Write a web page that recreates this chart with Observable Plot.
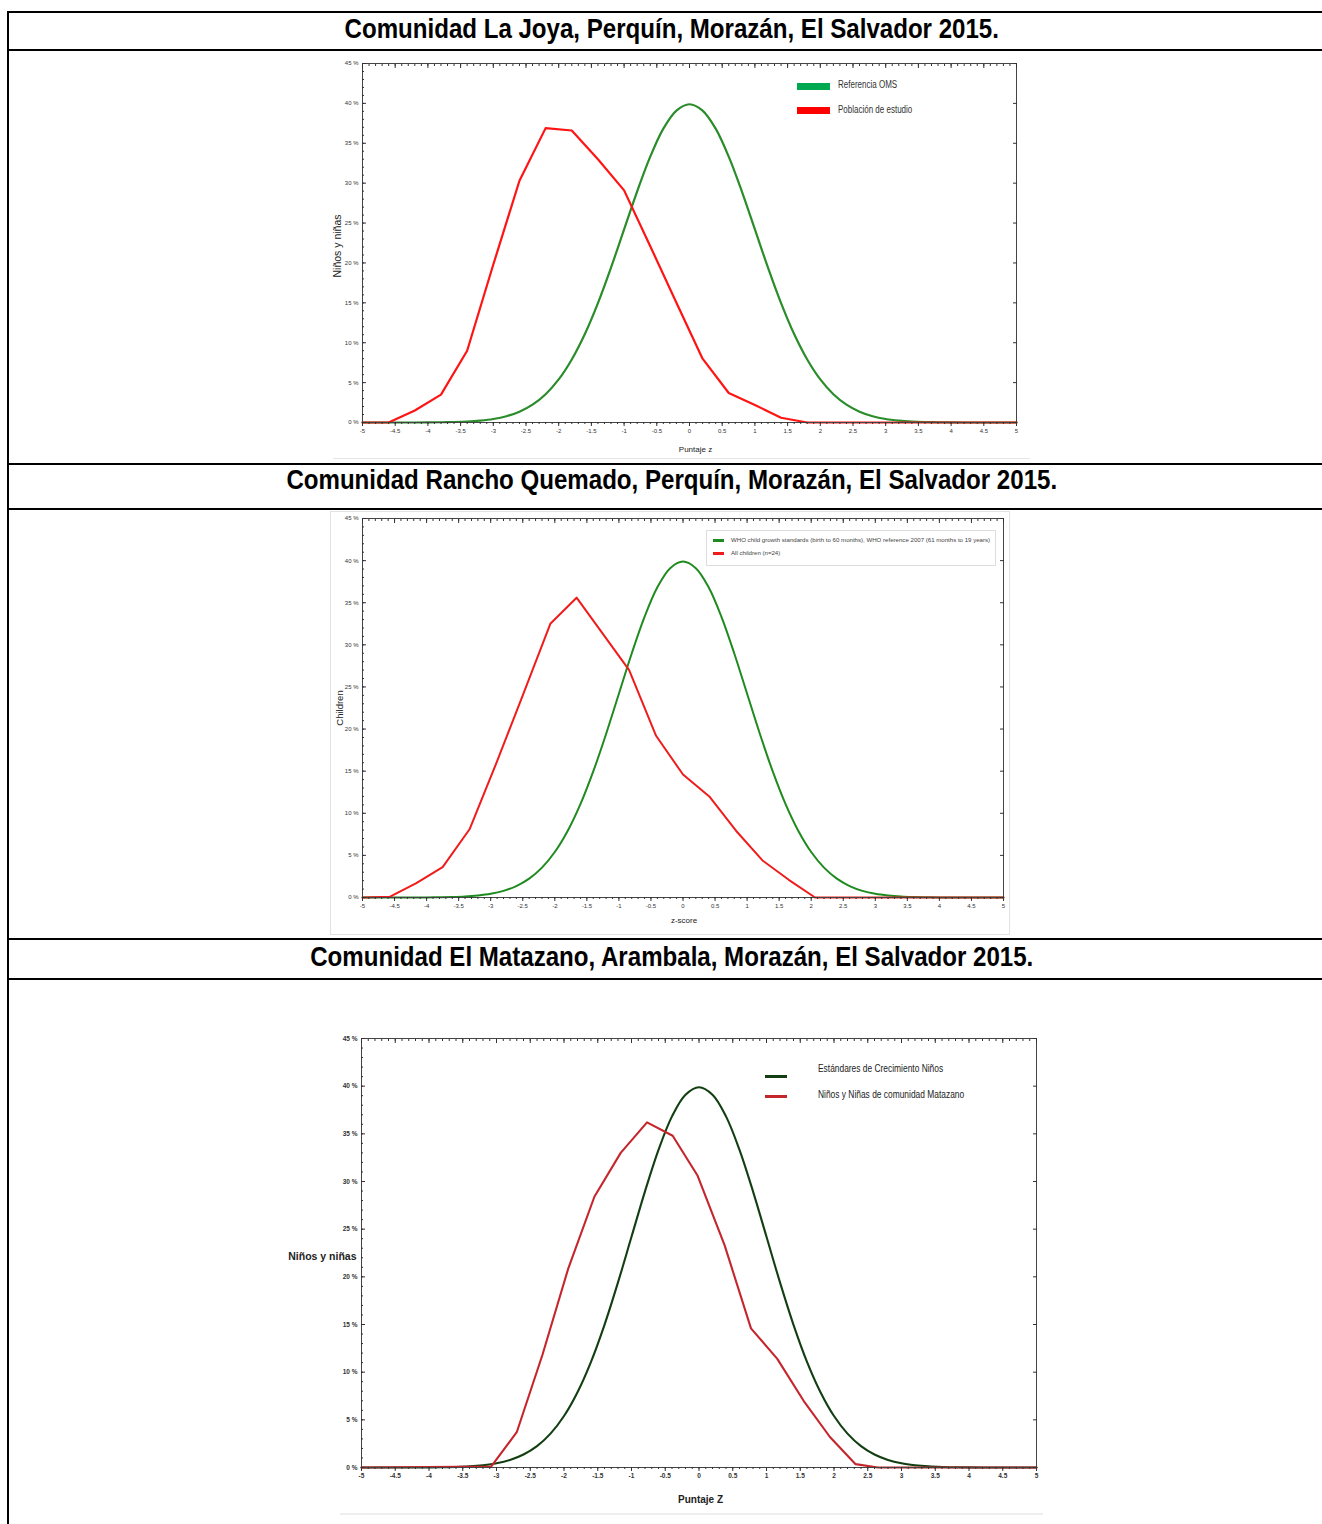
<!DOCTYPE html>
<html><head><meta charset="utf-8">
<script src="https://cdn.jsdelivr.net/npm/d3@7"></script>
<script src="https://cdn.jsdelivr.net/npm/@observablehq/plot@0.6"></script>
<style>
body{margin:0;background:#fff;}
#page{position:relative;width:1322px;height:1524px;overflow:hidden;background:#fff;font-family:"Liberation Sans",Arial,sans-serif;}
.hl{position:absolute;left:7px;width:1320px;height:2px;background:#000;}
.vl{position:absolute;left:7px;top:11px;width:2px;height:1520px;background:#000;}
.title{position:absolute;left:9px;width:1323px;text-align:center;font-family:"Liberation Sans",Arial,sans-serif;font-weight:bold;font-size:28px;line-height:28px;white-space:nowrap;color:#000;transform:scaleX(0.86);transform-origin:670.5px 50%;}
.chart{position:absolute;}
.lg{position:absolute;white-space:nowrap;line-height:1;transform-origin:0 50%;}
.sw{position:absolute;}
</style></head>
<body><div id="page"></div>
<script>
// ---------- data ----------
const titles = [
  "Comunidad La Joya, Perquín, Morazán, El Salvador 2015.",
  "Comunidad Rancho Quemado, Perquín, Morazán, El Salvador 2015.",
  "Comunidad El Matazano, Arambala, Morazán, El Salvador 2015."
];
const xTicks = [-5,-4.5,-4,-3.5,-3,-2.5,-2,-1.5,-1,-0.5,0,0.5,1,1.5,2,2.5,3,3.5,4,4.5,5];
const yTicks = [0,5,10,15,20,25,30,35,40,45];

// WHO reference curve (percent of children)
const whoZ = [-5,-4.8,-4.6,-4.4,-4.2,-4,-3.8,-3.6,-3.4,-3.2,-3,-2.8,-2.6,-2.4,-2.2,-2,-1.8,-1.6,-1.4,-1.2,-1,-0.8,-0.6,-0.4,-0.2,0,
  0.2,0.4,0.6,0.8,1,1.2,1.4,1.6,1.8,2,2.2,2.4,2.6,2.8,3,3.2,3.4,3.6,3.8,4,4.2,4.4,4.6,4.8,5];
const whoPct = [0,0,0,0,0,0.01,0.03,0.06,0.12,0.24,0.44,0.79,1.36,2.24,3.55,5.4,7.9,11.09,14.97,19.42,24.2,28.97,33.32,36.83,39.1,39.89,
  39.1,36.83,33.32,28.97,24.2,19.42,14.97,11.09,7.9,5.4,3.55,2.24,1.36,0.79,0.44,0.24,0.12,0.06,0.03,0.01,0,0,0,0,0];

// La Joya
const laJoyaZ   = [-5,-4.6,-4.2,-3.8,-3.4,-3.0,-2.6,-2.2,-1.8,-1.4,-1.0,-0.6,-0.2,0.2,0.6,1.0,1.4,1.8,5];
const laJoyaPct = [0,0,1.5,3.5,9.0,19.8,30.3,36.9,36.6,33.0,29.1,22.1,15.0,8.0,3.7,2.2,0.6,0,0];
// Rancho Quemado
const ranchoZ   = [-5,-4.57,-4.16,-3.75,-3.33,-2.92,-2.5,-2.07,-1.66,-1.25,-0.84,-0.42,0.0,0.41,0.83,1.24,1.65,2.06,5];
const ranchoPct = [0,0.1,1.7,3.6,8.1,15.8,24.0,32.5,35.6,31.3,27.0,19.2,14.6,12.0,7.9,4.4,2.1,0,0];
// El Matazano
const matazanoZ   = [-5,-3.08,-2.70,-2.32,-1.94,-1.55,-1.16,-0.77,-0.39,-0.02,0.38,0.77,1.16,1.55,1.94,2.32,2.65,5];
const matazanoPct = [0,0.1,3.7,11.8,20.8,28.4,33.0,36.2,34.8,30.6,23.3,14.6,11.4,7.0,3.2,0.35,0,0];

// ---------- layout ----------
const page = document.getElementById("page");
function el(cls, css, txt){
  const d = document.createElement("div");
  d.className = cls;
  Object.assign(d.style, css);
  if (txt != null) d.textContent = txt;
  page.appendChild(d);
  return d;
}
el("vl", {});
[11,49,463,508,938,978].forEach(t => el("hl", {top: t + "px"}));
el("title", {top: "15px"}, titles[0]);
el("title", {top: "466px"}, titles[1]);
el("title", {top: "943px"}, titles[2]);

// faint image borders
el("sw", {left:"333px", top:"458px", width:"697px", height:"1px", background:"#e6e6e6"});
el("sw", {left:"330px", top:"511px", width:"678px", height:"422px", border:"1px solid #e2e2e2"});
el("sw", {left:"340px", top:"1513px", width:"703px", height:"2px", background:"#eeeeee"});

function chart(o){
  const who = whoZ.map((z,i)=>({z, pct: whoPct[i]}));
  const red = o.redZ.map((z,i)=>({z, pct: o.redPct[i]}));
  const tf = d => String(d);
  const svg = Plot.plot({
    width: o.w, height: o.h,
    marginTop: o.mt, marginRight: o.mr, marginBottom: o.mb, marginLeft: o.ml,
    x: {domain: [-5, 5]},
    y: {domain: [0, 45]},
    style: {fontFamily: o.font, fontSize: o.tickFont + "px", background: "transparent", color: "#333", overflow: "visible"},
    marks: [
      Plot.line(who, {x: "z", y: "pct", stroke: o.green, strokeWidth: o.sw, curve: "catmull-rom"}),
      Plot.line(red, {x: "z", y: "pct", stroke: o.red, strokeWidth: o.sw}),
      Plot.frame({stroke: "#444", strokeWidth: 1}),
      Plot.axisX(xTicks, {anchor: "bottom", tickSize: 4, tickPadding: 2, tickFormat: tf, label: null, fontWeight: o.tickWeight}),
      Plot.axisX({anchor: "bottom", ticks: 100, tickSize: 2, fill: "none", label: null}),
      Plot.axisX(xTicks, {anchor: "top", tickSize: -4, fill: "none", label: null}),
      Plot.axisX({anchor: "top", ticks: 100, tickSize: -2, fill: "none", label: null}),
      Plot.axisY(yTicks, {anchor: "left", tickSize: 0, tickPadding: 4, tickFormat: d => d + " %", label: null, fontWeight: o.tickWeight}),
      Plot.axisY(yTicks, {anchor: "left", tickSize: -4, fill: "none", label: null}),
      Plot.axisY({anchor: "left", ticks: 45, tickSize: -2, fill: "none", label: null}),
      Plot.axisY(yTicks, {anchor: "right", tickSize: -4, fill: "none", label: null}),
      Plot.text([o.xLabel], {text: d => d, frameAnchor: "bottom", dx: o.xdx, dy: o.xdy, fontSize: o.labelFont, fontWeight: o.labelWeight, fontFamily: o.labelFamily, fill: "#222"}),
      Plot.text([o.yLabel], {text: d => d, frameAnchor: "left", dx: o.ydx, dy: o.ydy, rotate: o.yRotate, textAnchor: o.yAnchor, fontSize: o.yLabelFont, fontWeight: o.labelWeight, fontFamily: o.labelFamily, fill: "#222"})
    ]
  });
  svg.classList.add("chart");
  svg.style.position = "absolute";
  svg.style.left = o.left + "px";
  svg.style.top = o.top + "px";
  page.appendChild(svg);
}

const sans = "Liberation Sans, Arial, sans-serif";
chart({left: 320, top: 55, w: 720, h: 410, mt: 8, mr: 24, mb: 43, ml: 42,
  redZ: laJoyaZ, redPct: laJoyaPct, green: "#2a8c2a", red: "#ff1414", sw: 2.2,
  font: sans, tickFont: 6, tickWeight: "normal",
  xLabel: "Puntaje z", xdx: 6, xdy: 29, labelFont: 8, labelWeight: "normal", labelFamily: sans,
  yLabel: "Niños y niñas", ydx: -25, ydy: 3, yRotate: -90, yAnchor: "middle", yLabelFont: 10.5});

chart({left: 331, top: 512, w: 678, h: 422, mt: 6, mr: 6, mb: 37, ml: 31,
  redZ: ranchoZ, redPct: ranchoPct, green: "#1f8a1f", red: "#f01c1c", sw: 2,
  font: sans, tickFont: 6, tickWeight: "normal",
  xLabel: "z-score", xdx: 1, xdy: 25, labelFont: 8, labelWeight: "normal", labelFamily: sans,
  yLabel: "Children", ydx: -23, ydy: 0, yRotate: -90, yAnchor: "middle", yLabelFont: 9.5});

chart({left: 270, top: 1025, w: 780, h: 495, mt: 13, mr: 14, mb: 53, ml: 91,
  redZ: matazanoZ, redPct: matazanoPct, green: "#123f12", red: "#c4262c", sw: 2.1,
  font: sans, tickFont: 6.5, tickWeight: "bold",
  xLabel: "Puntaje Z", xdx: 1.5, xdy: 35, labelFont: 10, labelWeight: "bold", labelFamily: sans,
  yLabel: "Niños y niñas", ydx: -5, ydy: 3.5, yRotate: 0, yAnchor: "end", yLabelFont: 10.5});

// ---------- legends ----------
// La Joya
el("sw", {left:"797px", top:"83px", width:"33px", height:"7px", background:"#00a84f"});
el("sw", {left:"797px", top:"107px", width:"33px", height:"7px", background:"#ff0000"});
el("lg", {left:"838px", top:"80px", fontSize:"10px", color:"#333", transform:"scaleX(0.8)"}, "Referencia OMS");
el("lg", {left:"838px", top:"105px", fontSize:"10px", color:"#333", transform:"scaleX(0.8)"}, "Población de estudio");
// Rancho Quemado
el("sw", {left:"706px", top:"530px", width:"288px", height:"34px", border:"1px solid #dddddd", background:"#fff"});
el("sw", {left:"713px", top:"539px", width:"11px", height:"2.5px", background:"#1f8a1f"});
el("sw", {left:"713px", top:"552px", width:"11px", height:"2.5px", background:"#f01c1c"});
el("lg", {left:"731px", top:"537px", fontSize:"6.1px", color:"#444"}, "WHO child growth standards (birth to 60 months), WHO reference 2007 (61 months to 19 years)");
el("lg", {left:"731px", top:"550px", fontSize:"6.1px", color:"#444"}, "All children (n=24)");
// El Matazano
el("sw", {left:"765px", top:"1075px", width:"22px", height:"3px", background:"#123f12"});
el("sw", {left:"765px", top:"1095px", width:"22px", height:"3px", background:"#c4262c"});
el("lg", {left:"818px", top:"1063px", fontSize:"10.5px", color:"#222", transform:"scaleX(0.8)"}, "Estándares de Crecimiento Niños");
el("lg", {left:"818px", top:"1089px", fontSize:"10.5px", color:"#222", transform:"scaleX(0.8)"}, "Niños y Niñas de comunidad Matazano");
</script>
</body></html>
